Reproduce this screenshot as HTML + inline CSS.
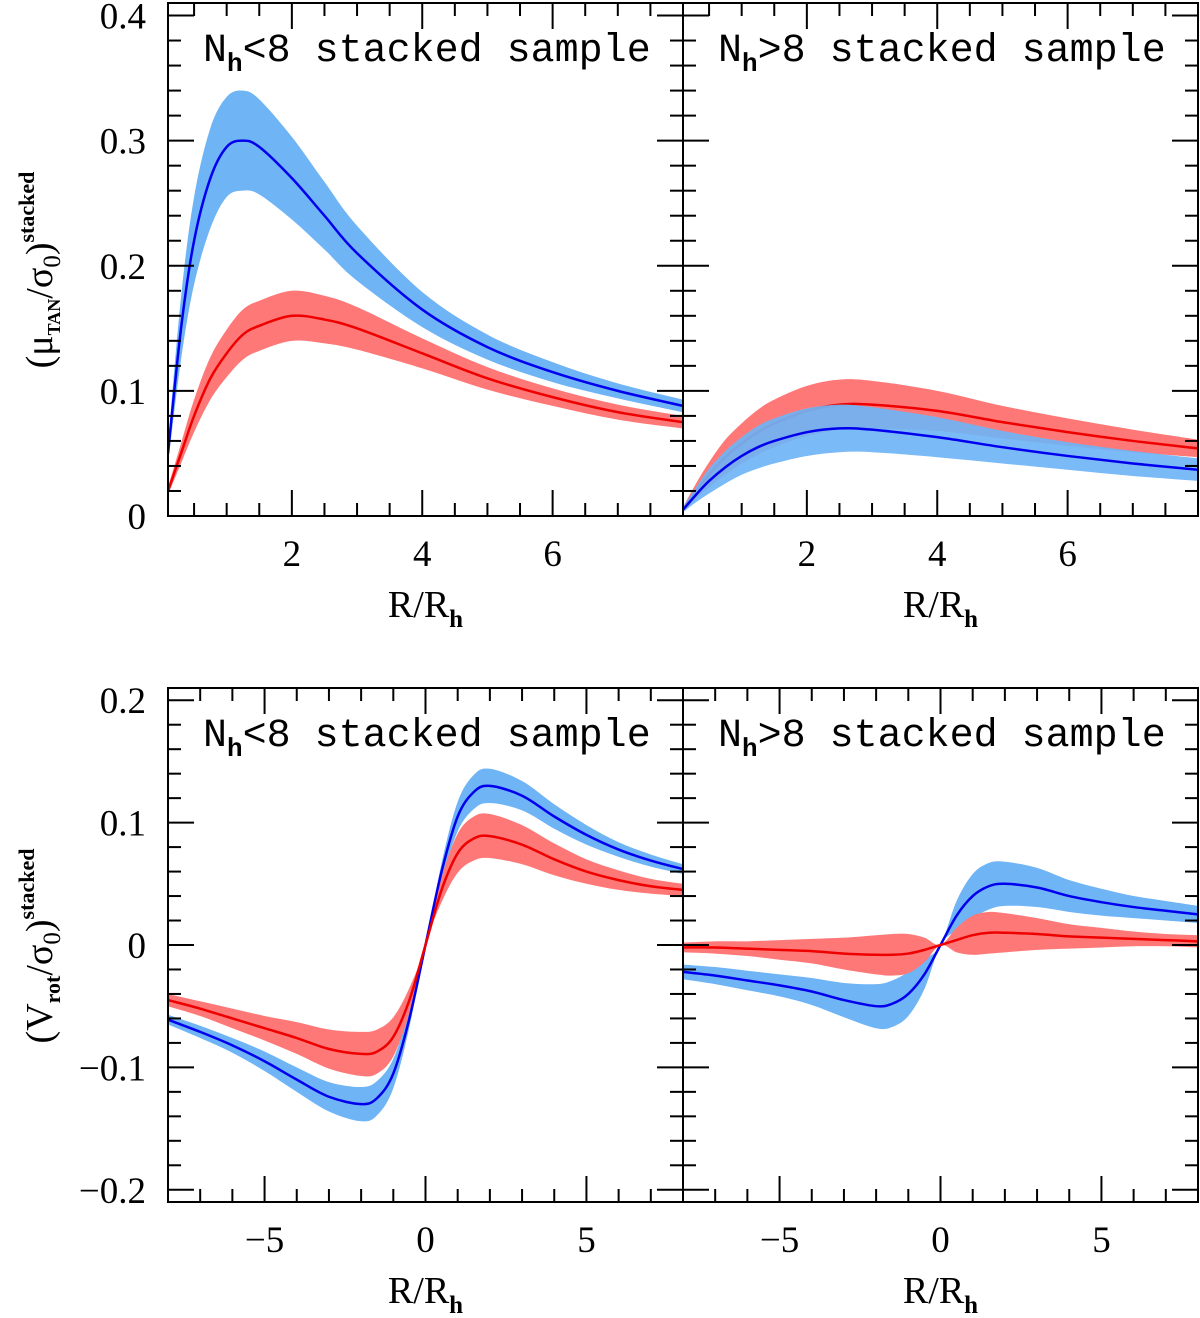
<!DOCTYPE html>
<html><head><meta charset="utf-8">
<style>
html,body{margin:0;padding:0;background:#fff;}
svg{display:block;font-family:"Liberation Serif","DejaVu Serif",serif;}
</style></head>
<body>
<svg id="chart" width="1200" height="1318" viewBox="0 0 1200 1318" xmlns="http://www.w3.org/2000/svg"></svg>
<script>
// ---- data ----
const topX = [0.1,0.3,0.5,0.75,1,1.25,1.5,2,2.5,3,4,5,6,7,8];
const tlBlue = [0.05,0.15,0.22,0.27,0.295,0.30,0.295,0.27,0.24,0.21,0.165,0.135,0.115,0.10,0.088];
const tlBlueErr = [0.008,0.025,0.035,0.04,0.04,0.04,0.038,0.033,0.027,0.022,0.014,0.01,0.008,0.006,0.005];
const tlRed = [0.02,0.05,0.08,0.11,0.13,0.145,0.152,0.16,0.157,0.15,0.13,0.11,0.095,0.083,0.075];
const tlRedErr = [0.003,0.008,0.013,0.017,0.019,0.02,0.02,0.02,0.019,0.017,0.012,0.009,0.007,0.006,0.005];
const trRed = [0.005,0.02,0.033,0.047,0.058,0.067,0.074,0.084,0.089,0.089,0.084,0.075,0.067,0.06,0.054];
const trRedErr = [0.002,0.006,0.01,0.014,0.016,0.018,0.019,0.02,0.02,0.019,0.016,0.013,0.011,0.009,0.007];
const trBlue = [0.005,0.017,0.028,0.039,0.048,0.055,0.06,0.067,0.07,0.069,0.063,0.055,0.048,0.042,0.037];
const trBlueErr = [0.002,0.006,0.01,0.013,0.015,0.017,0.018,0.019,0.019,0.018,0.016,0.013,0.011,0.01,0.009];
const botX = [-8,-7,-6,-5,-4,-3,-2,-1.5,-1,-0.5,0,0.5,1,1.5,2,3,4,5,6,7,8];
const blBlue = [-0.061,-0.071,-0.082,-0.095,-0.11,-0.124,-0.13,-0.125,-0.105,-0.06,0,0.06,0.105,0.125,0.13,0.122,0.105,0.09,0.078,0.069,0.062];
const blBlueErr = [0.004,0.005,0.006,0.008,0.01,0.012,0.014,0.014,0.012,0.007,0,0.007,0.012,0.014,0.014,0.012,0.01,0.008,0.006,0.005,0.004];
const blRed = [-0.045,-0.052,-0.06,-0.068,-0.076,-0.085,-0.089,-0.087,-0.075,-0.045,0,0.045,0.075,0.087,0.089,0.082,0.07,0.06,0.053,0.048,0.045];
const blRedErr = [0.005,0.006,0.008,0.01,0.013,0.016,0.018,0.018,0.016,0.01,0,0.01,0.016,0.018,0.018,0.016,0.013,0.01,0.008,0.006,0.005];
const brBlue = [-0.022,-0.025,-0.029,-0.033,-0.038,-0.045,-0.05,-0.048,-0.04,-0.024,0,0.024,0.04,0.048,0.05,0.047,0.04,0.035,0.031,0.028,0.025];
const brBlueErr = [0.006,0.007,0.008,0.009,0.011,0.014,0.018,0.019,0.018,0.012,0,0.012,0.018,0.019,0.018,0.016,0.013,0.011,0.009,0.008,0.007];
const brRed = [-0.002,-0.002,-0.003,-0.004,-0.005,-0.007,-0.008,-0.008,-0.007,-0.004,0,0.004,0.008,0.01,0.01,0.009,0.007,0.006,0.005,0.004,0.003];
const brRedErr = [0.004,0.005,0.006,0.008,0.01,0.013,0.016,0.017,0.016,0.01,0,0.01,0.016,0.017,0.016,0.013,0.01,0.008,0.006,0.005,0.005];
const topXTicks = [2,4,6];
const topYTicks = [0,0.1,0.2,0.3,0.4];
const topYLabels = ["0","0.1","0.2","0.3","0.4"];
const botXTicks = [-5,0,5];
const botXLabels = ["\u22125","0","5"];
const botYTicks = [-0.2,-0.1,0,0.1,0.2];
const botYLabels = ["\u22120.2","\u22120.1","0","0.1","0.2"];

const NS="http://www.w3.org/2000/svg";
const svg=document.getElementById('chart');
function mk(tag,attrs,parent){const e=document.createElementNS(NS,tag);for(const k in attrs)e.setAttribute(k,attrs[k]);(parent||svg).appendChild(e);return e;}
function lin(d0,d1,r0,r1){return v=>r0+(v-d0)*(r1-r0)/(d1-d0);}
function crPath(pts){
  let d="M"+pts[0][0].toFixed(2)+","+pts[0][1].toFixed(2);
  for(let i=0;i<pts.length-1;i++){
    const p0=pts[Math.max(0,i-1)],p1=pts[i],p2=pts[i+1],p3=pts[Math.min(pts.length-1,i+2)];
    const c1=[p1[0]+(p2[0]-p0[0])/6,p1[1]+(p2[1]-p0[1])/6];
    const c2=[p2[0]-(p3[0]-p1[0])/6,p2[1]-(p3[1]-p1[1])/6];
    d+=" C"+c1[0].toFixed(2)+","+c1[1].toFixed(2)+" "+c2[0].toFixed(2)+","+c2[1].toFixed(2)+" "+p2[0].toFixed(2)+","+p2[1].toFixed(2);
  }
  return d;
}
function crCont(pts){return crPath(pts).replace(/^M/,"L");}

function panel(o){
  const g=mk('g',{});
  
  
  const sx=lin(o.xd[0],o.xd[1],o.x0,o.x1), sy=lin(o.yd[0],o.yd[1],o.y1,o.y0);
  const clipId=o.name+"-clip";
  const cp=mk('clipPath',{id:clipId},g); mk('rect',{x:o.x0,y:o.y0,width:o.x1-o.x0,height:o.y1-o.y0},cp);
  const dg=mk('g',{'clip-path':'url(#'+clipId+')'},g);
  o.series.forEach(s=>{
    const up=o.xs.map((x,i)=>[sx(x),sy(s.v[i]+s.e[i])]);
    const lo=o.xs.map((x,i)=>[sx(x),sy(s.v[i]-s.e[i])]).reverse();
    const band=mk('path',{d:crPath(up)+" "+crCont(lo)+" Z",fill:s.band,'fill-opacity':s.op||1},dg);
    
    
    if(s.lineNow){
      const ln=mk('path',{d:crPath(o.xs.map((x,i)=>[sx(x),sy(s.v[i])])),fill:'none',stroke:s.line,'stroke-width':2.5},dg);
      
      
    }
  });
  o.series.forEach(s=>{
    if(s.lineNow) return;
    const ln=mk('path',{d:crPath(o.xs.map((x,i)=>[sx(x),sy(s.v[i])])),fill:'none',stroke:s.line,'stroke-width':2.5},dg);
    
    
  });
  const fr=mk('rect',{x:o.x0,y:o.y0,width:o.x1-o.x0,height:o.y1-o.y0,fill:'none',stroke:'#000','stroke-width':2},g);
  
  
  const tk=mk('g',{stroke:'#000','stroke-width':2},g);
  
  
  const eps=1e-6;
  for(let v=Math.ceil(o.xd[0]/o.xmin-eps)*o.xmin; v<=o.xd[1]+eps; v+=o.xmin){
    const major=Math.abs(v/o.xmaj-Math.round(v/o.xmaj))<1e-6; const L=major?26:13; const x=sx(v);
    if(x<o.x0+1||x>o.x1-1) continue;
    mk('line',{x1:x,y1:o.y1,x2:x,y2:o.y1-L},tk); mk('line',{x1:x,y1:o.y0,x2:x,y2:o.y0+L},tk);
  }
  for(let v=Math.ceil(o.yd[0]/o.ymin-eps)*o.ymin; v<=o.yd[1]+eps; v+=o.ymin){
    const major=Math.abs(v/o.ymaj-Math.round(v/o.ymaj))<1e-6; const L=major?26:13; const y=sy(v);
    if(y<o.y0+1||y>o.y1-1) continue;
    mk('line',{x1:o.x0,y1:y,x2:o.x0+L,y2:y},tk); mk('line',{x1:o.x1,y1:y,x2:o.x1-L,y2:y},tk);
  }
  o.xt.forEach((v,i)=>{
    const t=mk('text',{x:sx(v),y:o.y1+50,'font-size':37,'text-anchor':'middle'},g);
    t.textContent=o.xl[i];
    
    
  });
  if(o.yt){
    o.yt.forEach((v,i)=>{
      const t=mk('text',{x:o.x0-22,y:sy(v)+13,'font-size':37,'text-anchor':'end'},g);
      t.textContent=o.yl[i];
      
      
    });
  }
  const tt=mk('text',{x:o.x0+35,y:o.y0+58,'font-size':40,'font-family':'"Liberation Mono",monospace'},g);
  
  
  tt.innerHTML='N<tspan font-size="26" font-weight="bold" dy="10">h</tspan><tspan dy="-10">'+o.title+'</tspan>';
  const xa=mk('text',{x:(o.x0+o.x1)/2,y:o.y1+101,'font-size':38,'text-anchor':'middle'},g);
  
  
  xa.innerHTML='R/R<tspan font-size="25" font-weight="bold" dy="10">h</tspan>';
}

const BLUEB='#6fb4f5', REDB='#ff7878', BL='#0000ee', RD='#ee0000';
const topCommon={xd:[0.1,8],yd:[0,0.41],y0:3,y1:516,xmin:0.5,xmaj:2,ymin:0.02,ymaj:0.1,xs:topX,xt:topXTicks,xl:["2","4","6"]};
panel(Object.assign({},topCommon,{name:'panel-top-left',x0:168,x1:683,yt:topYTicks,yl:topYLabels,title:'&lt;8 stacked sample',
  series:[{nm:'blue',v:tlBlue,e:tlBlueErr,band:BLUEB,line:BL},{nm:'red',v:tlRed,e:tlRedErr,band:REDB,line:RD}]}));
panel(Object.assign({},topCommon,{name:'panel-top-right',x0:683,x1:1198,title:'&gt;8 stacked sample',
  series:[{nm:'red',v:trRed,e:trRedErr,band:REDB,line:RD,lineNow:true},{nm:'blue',v:trBlue,e:trBlueErr,band:BLUEB,line:BL,op:0.92}]}));
const botCommon={xd:[-8,8],yd:[-0.21,0.21],y0:688,y1:1202,xmin:1,xmaj:5,ymin:0.02,ymaj:0.1,xs:botX,xt:botXTicks,xl:botXLabels};
panel(Object.assign({},botCommon,{name:'panel-bottom-left',x0:168,x1:683,yt:botYTicks,yl:botYLabels,title:'&lt;8 stacked sample',
  series:[{nm:'blue',v:blBlue,e:blBlueErr,band:BLUEB,line:BL},{nm:'red',v:blRed,e:blRedErr,band:REDB,line:RD}]}));
panel(Object.assign({},botCommon,{name:'panel-bottom-right',x0:683,x1:1198,title:'&gt;8 stacked sample',
  series:[{nm:'blue',v:brBlue,e:brBlueErr,band:BLUEB,line:BL},{nm:'red',v:brRed,e:brRedErr,band:REDB,line:RD}]}));

const y1=mk('text',{transform:'translate(52,270) rotate(-90)','font-size':38,'text-anchor':'middle'});


y1.innerHTML='(μ<tspan font-size="18" font-weight="bold" dy="8">TAN</tspan><tspan dy="-8">/σ</tspan><tspan font-size="25" dy="8">0</tspan><tspan dy="-8">)</tspan><tspan font-size="22" font-weight="bold" dy="-18">stacked</tspan>';
const y2=mk('text',{transform:'translate(52,946) rotate(-90)','font-size':38,'text-anchor':'middle'});


y2.innerHTML='(V<tspan font-size="22" font-weight="bold" dy="8">rot</tspan><tspan dy="-8">/σ</tspan><tspan font-size="25" dy="8">0</tspan><tspan dy="-8">)</tspan><tspan font-size="22" font-weight="bold" dy="-18">stacked</tspan>';
</script>
</body></html>
